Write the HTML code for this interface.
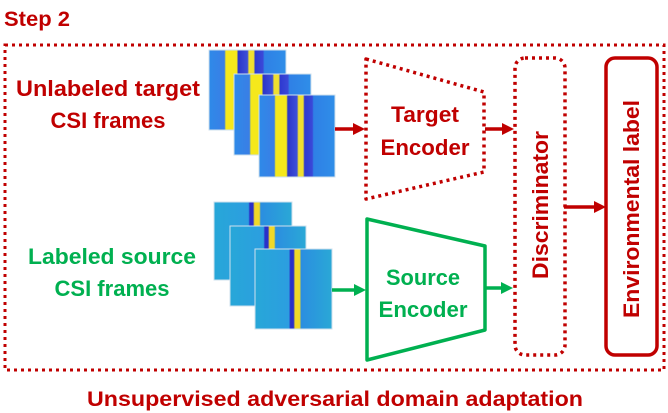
<!DOCTYPE html>
<html><head><meta charset="utf-8"><style>body{margin:0;background:#fff}svg{display:block}text{font-family:"Liberation Sans",sans-serif;font-weight:bold}</style></head><body>
<svg width="668" height="413" viewBox="0 0 668 413" xmlns="http://www.w3.org/2000/svg">
<defs>
<linearGradient id="t" x1="0" x2="1" y1="0" y2="0">
<stop offset="0" stop-color="#2e8ae8"/><stop offset="0.2" stop-color="#3a7ee6"/>
<stop offset="0.22" stop-color="#f5e81c"/><stop offset="0.36" stop-color="#f5e81c"/>
<stop offset="0.38" stop-color="#2c36c8"/><stop offset="0.5" stop-color="#3d4fd8"/>
<stop offset="0.52" stop-color="#f0e030"/><stop offset="0.58" stop-color="#f0e030"/>
<stop offset="0.6" stop-color="#2e3ad0"/><stop offset="0.7" stop-color="#3a48d8"/>
<stop offset="0.72" stop-color="#2f80e6"/><stop offset="1" stop-color="#2f8ee8"/>
</linearGradient>
<linearGradient id="s" x1="0" x2="1" y1="0" y2="0">
<stop offset="0" stop-color="#27a7d8"/><stop offset="0.44" stop-color="#2c9ee0"/>
<stop offset="0.46" stop-color="#2a30c8"/><stop offset="0.5" stop-color="#2a30c8"/>
<stop offset="0.52" stop-color="#f0d828"/><stop offset="0.58" stop-color="#f0d828"/>
<stop offset="0.6" stop-color="#2b8ee0"/><stop offset="1" stop-color="#2aa8d6"/>
</linearGradient>
</defs>
<text x="4" y="26" font-size="21" fill="#c00000" textLength="66" lengthAdjust="spacingAndGlyphs">Step 2</text>
<rect x="5" y="45" width="659" height="325" fill="none" stroke="#c00000" stroke-width="3" stroke-dasharray="3 4"/>
<text x="108" y="96" font-size="22" fill="#c00000" text-anchor="middle" textLength="184" lengthAdjust="spacingAndGlyphs">Unlabeled target</text>
<text x="108" y="128" font-size="22" fill="#c00000" text-anchor="middle" textLength="115" lengthAdjust="spacingAndGlyphs">CSI frames</text>
<text x="112" y="264" font-size="22" fill="#00b050" text-anchor="middle" textLength="168" lengthAdjust="spacingAndGlyphs">Labeled source</text>
<text x="112" y="296" font-size="22" fill="#00b050" text-anchor="middle" textLength="115" lengthAdjust="spacingAndGlyphs">CSI frames</text>
<g stroke="#cfe0ee" stroke-width="1">
<rect x="209" y="50" width="77" height="80" fill="url(#t)"/>
<rect x="234" y="74" width="77" height="81" fill="url(#t)"/>
<rect x="259" y="95" width="76" height="82" fill="url(#t)"/>
<rect x="214" y="202" width="78" height="78" fill="url(#s)"/>
<rect x="230" y="226" width="76" height="80" fill="url(#s)"/>
<rect x="255" y="249" width="77" height="80" fill="url(#s)"/>
</g>
<path d="M366 59 L484 92 L484 172 L366 199 Z" fill="none" stroke="#c00000" stroke-width="3.5" stroke-dasharray="3 4" stroke-linejoin="round"/>
<text x="425" y="122" font-size="22" fill="#c00000" text-anchor="middle" textLength="68" lengthAdjust="spacingAndGlyphs">Target</text>
<text x="425" y="155" font-size="22" fill="#c00000" text-anchor="middle" textLength="89" lengthAdjust="spacingAndGlyphs">Encoder</text>
<path d="M367 219 L485 246 L485 330 L367 360 Z" fill="none" stroke="#00b050" stroke-width="3.5" stroke-linejoin="round"/>
<text x="423" y="285" font-size="22" fill="#00b050" text-anchor="middle" textLength="74" lengthAdjust="spacingAndGlyphs">Source</text>
<text x="423" y="317" font-size="22" fill="#00b050" text-anchor="middle" textLength="89" lengthAdjust="spacingAndGlyphs">Encoder</text>
<rect x="515" y="58" width="50" height="297" rx="10" fill="none" stroke="#c00000" stroke-width="3.5" stroke-dasharray="3 4"/>
<text transform="translate(548 205) rotate(-90)" font-size="22" fill="#c00000" text-anchor="middle" textLength="148" lengthAdjust="spacingAndGlyphs">Discriminator</text>
<rect x="606" y="58" width="51" height="297" rx="9" fill="none" stroke="#c00000" stroke-width="3.5"/>
<text transform="translate(639 209) rotate(-90)" font-size="22" fill="#c00000" text-anchor="middle" textLength="218" lengthAdjust="spacingAndGlyphs">Environmental label</text>
<g fill="#c00000" stroke="#c00000" stroke-width="3.5">
<line x1="335" y1="129" x2="355" y2="129"/><path d="M365 129 L353 123 L353 135 Z" stroke="none"/>
<line x1="485" y1="129" x2="503" y2="129"/><path d="M514 129 L502 123 L502 135 Z" stroke="none"/>
<line x1="564" y1="207" x2="594" y2="207"/><path d="M606 207 L594 201 L594 213 Z" stroke="none"/>
</g>
<g fill="#00b050" stroke="#00b050" stroke-width="3.5">
<line x1="332" y1="290" x2="355" y2="290"/><path d="M366 290 L354 284 L354 296 Z" stroke="none"/>
<line x1="485" y1="288" x2="502" y2="288"/><path d="M513 288 L501 282 L501 294 Z" stroke="none"/>
</g>
<text x="335" y="406" font-size="21" fill="#c00000" text-anchor="middle" textLength="496" lengthAdjust="spacingAndGlyphs">Unsupervised adversarial domain adaptation</text>
</svg>
</body></html>
